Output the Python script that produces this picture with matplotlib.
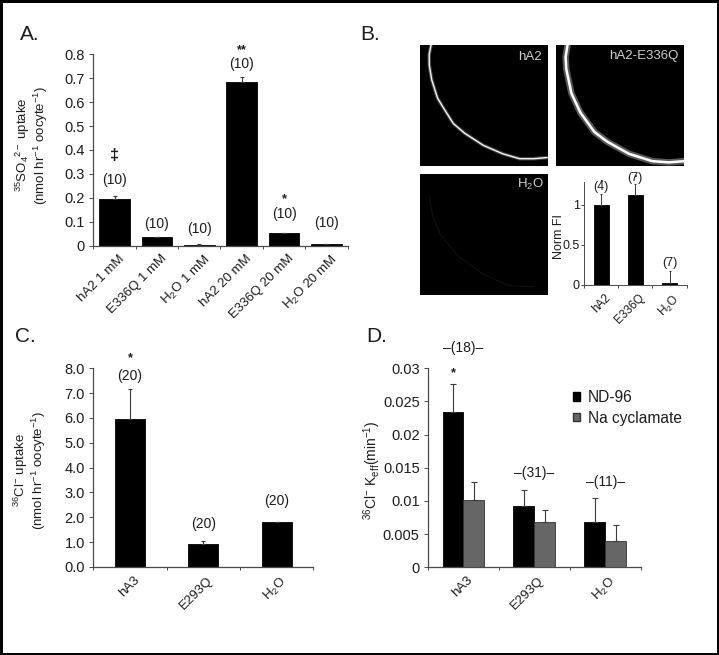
import matplotlib
matplotlib.use("Agg")
import numpy as np
import matplotlib.pyplot as plt
from matplotlib.patches import Rectangle
from matplotlib.transforms import ScaledTranslation

plt.rcParams['font.family'] = ['Liberation Sans', 'DejaVu Sans']
plt.rcParams['mathtext.fontset'] = 'custom'
plt.rcParams['mathtext.rm'] = 'Liberation Sans'
plt.rcParams['mathtext.it'] = 'Liberation Sans:italic'
plt.rcParams['mathtext.bf'] = 'Liberation Sans:bold'
plt.rcParams['mathtext.default'] = 'regular'

W, H = 719, 655
DARK = '#1c1c1c'
AXC = '#4a4a4a'

# panel A
a_labels = ['hA2 1 mM', 'E336Q 1 mM', 'H$_2$O 1 mM', 'hA2 20 mM', 'E336Q 20 mM', 'H$_2$O 20 mM']
a_vals = [0.194, 0.035, 0.005, 0.683, 0.052, 0.008]
a_errs = [0.014, 0.003, 0.001, 0.024, 0.002, 0.001]
a_n_y = [0.273, 0.09, 0.068, 0.76, 0.132, 0.096]
a_ticks = [0, 0.1, 0.2, 0.3, 0.4, 0.5, 0.6, 0.7, 0.8]
a_ticklabels = ['0', '0.1', '0.2', '0.3', '0.4', '0.5', '0.6', '0.7', '0.8']

# panel B inset
b_labels = ['hA2', 'E336Q', 'H$_2$O']
b_vals = [1.0, 1.12, 0.03]
b_errs = [0.14, 0.14, 0.15]
b_n = ['(4)', '(7)', '(7)']
b_n_y = [1.22, 1.33, 0.28]

# micrograph membrane traces, as fractions of each image
arc_hA2_x = [0.087, 0.072, 0.073, 0.092, 0.137, 0.183, 0.261, 0.35, 0.496, 0.65, 0.78, 0.89, 1.0]
arc_hA2_y = [0.0, 0.08, 0.17, 0.29, 0.44, 0.52, 0.65, 0.73, 0.83, 0.90, 0.94, 0.94, 0.93]
arc_e336_x = [0.09, 0.075, 0.08, 0.12, 0.19, 0.30, 0.40, 0.57, 0.75, 0.88, 1.0]
arc_e336_y = [0.0, 0.1, 0.2, 0.40, 0.56, 0.72, 0.80, 0.90, 0.96, 0.97, 0.96]
arc_h2o_x = [0.07, 0.1, 0.16, 0.3, 0.5, 0.7, 0.89]
arc_h2o_y = [0.17, 0.35, 0.5, 0.68, 0.83, 0.92, 0.93]

# panel C
c_labels = ['hA3', 'E293Q', 'H$_2$O']
c_vals = [5.97, 0.93, 1.81]
c_errs = [1.2, 0.12, 0.0]
c_n_y = [7.69, 1.73, 2.67]
c_ticks = [0, 1, 2, 3, 4, 5, 6, 7, 8]
c_ticklabels = ['0.0', '1.0', '2.0', '3.0', '4.0', '5.0', '6.0', '7.0', '8.0']

# panel D
d_labels = ['hA3', 'E293Q', 'H$_2$O']
d_nd96 = [0.0234, 0.0093, 0.0068]
d_nd96_err = [0.0043, 0.0023, 0.0036]
d_cyc = [0.0102, 0.0069, 0.0039]
d_cyc_err = [0.0026, 0.0017, 0.0025]
d_n = ['–(18)–', '–(31)–', '–(11)–']
d_n_y = [0.033, 0.01427, 0.0129]
d_ticks = [0, 0.005, 0.01, 0.015, 0.02, 0.025, 0.03]
d_ticklabels = ['0', '0.005', '0.01', '0.015', '0.02', '0.025', '0.03']

fig = plt.figure(figsize=(W / 100, H / 100), dpi=100, facecolor='black')
fig.patches.append(Rectangle((3 / W, 1 - 653 / H), 714 / W, 650 / H, transform=fig.transFigure,
                             facecolor='white', edgecolor='none', zorder=-5))


def px_axes(x0, y0, x1, y1):
    # pixel box, y counted from the top of the picture
    ax = fig.add_axes([x0 / W, 1 - y1 / H, (x1 - x0) / W, (y1 - y0) / H])
    return ax


def ftext(x, y, s, **kw):
    kw.setdefault('ha', 'center')
    kw.setdefault('va', 'center')
    kw.setdefault('color', DARK)
    fig.text(x / W, 1 - y / H, s, **kw)


def style(ax, n, labels, ticks=None, ticklabels=None, size=10, labsize=9.5, dx=4, lw=0.9):
    for s in ['top', 'right']:
        ax.spines[s].set_visible(False)
    for s in ['left', 'bottom']:
        ax.spines[s].set_color(AXC)
        ax.spines[s].set_linewidth(lw)
    ax.set_facecolor('none')
    ax.set_xlim(0, n)
    ax.set_xticks(np.arange(n + 1))
    ax.set_xticklabels([])
    ax.set_xticks(np.arange(n) + 0.5, minor=True)
    ax.set_xticklabels(labels, minor=True, rotation=45, ha='right', va='top',
                       rotation_mode='anchor', fontsize=labsize, color=DARK)
    ax.tick_params(axis='x', which='major', length=2, width=0.7, color=AXC)
    ax.tick_params(axis='x', which='minor', length=0, pad=5)
    off = ScaledTranslation(dx / 100, 0, fig.dpi_scale_trans)
    for t in ax.get_xticklabels(minor=True):
        t.set_transform(t.get_transform() + off)
    if ticks is not None:
        ax.set_yticks(ticks)
        ax.set_yticklabels(ticklabels)
    ax.tick_params(axis='y', length=3, width=0.7, color=AXC, labelsize=size, labelcolor=DARK, pad=3)


def bars_err(ax, x, vals, errs, width, color='black', edge='black', capsize=1.5, elw=0.8):
    ax.bar(x, vals, width, color=color, edgecolor=edge, linewidth=0.6)
    ax.errorbar(x, vals, yerr=[np.zeros(len(vals)), errs], fmt='none', ecolor='#3a3a3a',
                elinewidth=elw, capsize=capsize, capthick=0.8)


# A
ax = px_axes(93.3, 54.3, 347.7, 245.7)
xa = np.arange(6) + 0.5
bars_err(ax, xa, a_vals, a_errs, 0.72)
ax.set_ylim(0, 0.8)
style(ax, 6, a_labels, a_ticks, a_ticklabels, size=10.5, labsize=9.5)
for x, y in zip(xa, a_n_y):
    ax.text(x, y, '(10)', ha='center', va='center', fontsize=10, color=DARK, clip_on=False)
ax.text(xa[0], 0.379, '‡', ha='center', va='center', fontsize=12, fontweight='bold', color=DARK, clip_on=False)
ax.text(xa[3], 0.818, '**', ha='center', va='center', fontsize=9, fontweight='bold', color=DARK, clip_on=False)
ax.text(xa[4], 0.195, '*', ha='center', va='center', fontsize=9, fontweight='bold', color=DARK, clip_on=False)
ftext(20 + 9.5, 34, 'A.', fontsize=15)
ftext(32, 145, '$^{35}$SO$_4$$^{2-}$ uptake\n(nmol hr$^{-1}$ oocyte$^{-1}$)', rotation=90, fontsize=9.5, linespacing=1.0)

# B images
boxes = [(420, 44.7, 547.7, 166), (556, 44.7, 684.3, 166), (420, 174, 547.7, 295.3)]
arcs = [(arc_hA2_x, arc_hA2_y, 1.0, '#f4f4f4', 0.25),
        (arc_e336_x, arc_e336_y, 1.8, '#ffffff', 0.35),
        (arc_h2o_x, arc_h2o_y, 0.8, '#101010', 0.0)]
for box, (ax_x, ax_y, lw, col, glow) in zip(boxes, arcs):
    im = px_axes(*box)
    im.set_facecolor('black')
    im.set_xlim(0, 1)
    im.set_ylim(1, 0)
    im.set_xticks([])
    im.set_yticks([])
    for s in im.spines.values():
        s.set_visible(False)
    if glow:
        im.plot(ax_x, ax_y, color='white', lw=lw * 2.6, alpha=glow, solid_capstyle='butt')
    im.plot(ax_x, ax_y, color=col, lw=lw, solid_capstyle='butt', solid_joinstyle='round')
ftext(541.7, 56.5, 'hA2', ha='right', fontsize=9.5, color='#cfcfcf')
ftext(678, 56.5, 'hA2-E336Q', ha='right', fontsize=9.5, color='#cfcfcf')
ftext(544, 184.5, 'H$_2$O', ha='right', fontsize=9.5, color='#cfcfcf')
ftext(361 + 9, 34, 'B.', fontsize=15)

# B inset
ax = px_axes(584, 181.7, 686.7, 285)
xb = np.arange(3) + 0.5
bars_err(ax, xb, b_vals, b_errs, 0.44, capsize=0.8, elw=0.7)
ax.set_ylim(0, 1.29)
style(ax, 3, b_labels, [0, 0.5, 1], ['0', '0.5', '1'], size=9, labsize=8.5, dx=3, lw=0.7)
ax.tick_params(axis='y', length=2, pad=1)
for x, y, s in zip(xb, b_n_y, b_n):
    ax.text(x, y, s, ha='center', va='center', fontsize=9, color=DARK, clip_on=False)
ax.text(xb[0], 1.32, '.', ha='center', va='center', fontsize=9, fontweight='bold', color=DARK, clip_on=False)
ax.text(xb[1], 1.39, '.', ha='center', va='center', fontsize=9, fontweight='bold', color=DARK, clip_on=False)
ftext(559, 237, 'Norm FI', rotation=90, fontsize=9)

# C
ax = px_axes(93.3, 368.3, 313.3, 567)
xc = np.arange(3) + 0.5
bars_err(ax, xc, c_vals, c_errs, 0.41)
ax.set_ylim(0, 8)
style(ax, 3, c_labels, c_ticks, c_ticklabels, size=10.5, labsize=9.5, dx=3)
for x, y in zip(xc, c_n_y):
    ax.text(x, y, '(20)', ha='center', va='center', fontsize=10, color=DARK, clip_on=False)
ax.text(xc[0], 8.42, '*', ha='center', va='center', fontsize=9, fontweight='bold', color=DARK, clip_on=False)
ftext(16 + 9, 336, 'C.', fontsize=15)
ftext(30, 470, '$^{36}$Cl$^{-}$ uptake\n(nmol hr$^{-1}$ oocyte$^{-1}$)', rotation=90, fontsize=9.5, linespacing=1.0)

# D
ax = px_axes(428, 368.3, 640.7, 567.3)
xd = np.arange(3) + 0.5
w = 0.295
bars_err(ax, xd - w / 2, d_nd96, d_nd96_err, w, capsize=2)
bars_err(ax, xd + w / 2, d_cyc, d_cyc_err, w, color='#666666', edge='#333333', capsize=2)
ax.set_ylim(0, 0.03)
style(ax, 3, d_labels, d_ticks, d_ticklabels, size=10.5, labsize=9.5, dx=3)
for x, y, s in zip(xd, d_n_y, d_n):
    ax.text(x, y, s, ha='center', va='center', fontsize=10, color=DARK, clip_on=False)
ax.text(xd[0] - w / 2, 0.0292, '*', ha='center', va='center', fontsize=9, fontweight='bold', color=DARK, clip_on=False)
ftext(367 + 10, 336, 'D.', fontsize=15)
ftext(372, 470, '$^{36}$Cl$^{-}$ K$_{eff}$(min$^{-1}$)', rotation=90, fontsize=10)
h1 = Rectangle((0, 0), 1, 1, facecolor='black', edgecolor='black')
h2 = Rectangle((0, 0), 1, 1, facecolor='#666666', edgecolor='#333333')
ax.legend([h1, h2], ['ND-96', 'Na cyclamate'], loc='upper left', bbox_to_anchor=(0.68, 0.89),
          frameon=False, fontsize=11.2, handlelength=0.45, handleheight=0.45, handletextpad=0.55,
          labelspacing=0.35, borderpad=0, borderaxespad=0, labelcolor=DARK)

fig.savefig('out.png', dpi=100, facecolor='black')
